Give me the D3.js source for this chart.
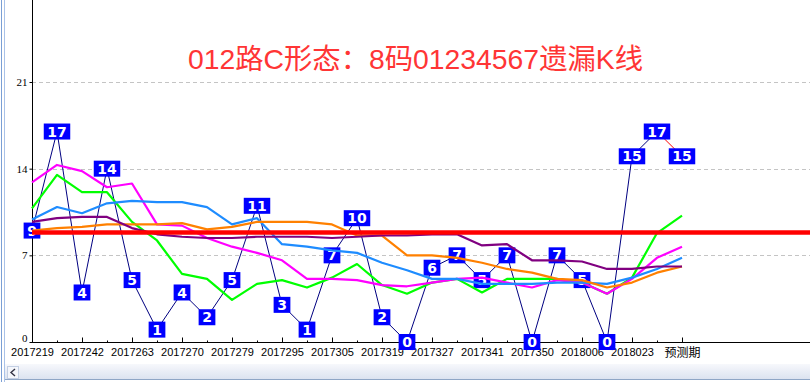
<!DOCTYPE html>
<html lang="zh">
<head>
<meta charset="UTF-8">
<title>012路C形态：8码01234567遗漏K线</title>
<style>
  html, body { margin: 0; padding: 0; background: #fff; }
  svg { display: block; }
</style>
</head>
<body>
<script src="https://d3js.org/d3.v7.min.js"></script>
<script>
// periods shown on the x axis (every second point)
const periods = ["2017219", "2017242", "2017263", "2017270", "2017279", "2017295", "2017305",
  "2017319", "2017327", "2017341", "2017350", "2018006", "2018023", "预测期"];

// omission values (blue boxes), last one is the forecast
const hits = [9, 17, 4, 14, 5, 1, 4, 2, 5, 11, 3, 1, 7, 10, 2, 0, 6, 7, 5, 7, 0, 7, 5, 0, 15, 17, 15];

// the moving lines
const greenLine = [10.8, 13.5, 12.1, 12.1, 9.7, 8.2, 5.5, 5.1, 3.4, 4.7, 5.0, 4.4, 5.2, 6.3, 4.6, 3.9, 4.8, 5.1, 4.0, 5.1, 5.1, 5.1, 4.8, 3.9, 5.2, 8.8, 10.2];
const magentaLine = [12.9, 14.3, 13.8, 12.5, 12.8, 9.5, 9.4, 8.4, 7.7, 7.2, 6.6, 5.1, 5.1, 5.0, 4.6, 4.5, 4.8, 5.1, 5.2, 4.8, 4.4, 5.0, 4.8, 3.9, 5.1, 6.8, 7.7];
const blueLine = [9.9, 10.9, 10.4, 11.2, 11.4, 11.3, 11.3, 10.9, 9.5, 10.0, 7.9, 7.7, 7.4, 7.2, 6.4, 5.8, 5.1, 5.1, 4.7, 4.7, 4.7, 4.8, 4.8, 4.7, 5.2, 5.9, 6.8];
const orangeLine = [9.0, 9.2, 9.3, 9.5, 9.5, 9.5, 9.6, 9.1, 9.3, 9.7, 9.7, 9.7, 9.5, 8.6, 8.6, 7.0, 7.0, 6.8, 6.4, 5.9, 5.6, 5.1, 5.0, 4.4, 4.8, 5.6, 6.1];
const purpleLine = [9.7, 10.0, 10.1, 10.1, 9.2, 8.7, 8.5, 8.4, 8.4, 8.5, 8.5, 8.5, 8.4, 8.5, 8.6, 8.6, 8.7, 8.7, 7.8, 7.9, 6.6, 6.6, 6.5, 5.9, 5.9, 6.1, 6.1];
const avgValue = 8.85;

const yTicks = [0, 7, 14, 21];
const title = "012路C形态：8码01234567遗漏K线";

const W = 810, H = 382;
const idx = d3.range(hits.length);

const svg = d3.select("body").append("svg")
  .attr("width", W)
  .attr("height", H);

const x = d3.scalePoint().domain(idx).range([32, 682]);
const y = d3.scaleLinear().domain([0, 21]).range([342, 82]);

// window frame bits
svg.append("rect").attr("x", 1).attr("y", 0).attr("width", 1).attr("height", H).attr("fill", "#7b9fd4");
svg.append("rect").attr("x", 4).attr("y", 0).attr("width", 1).attr("height", H).attr("fill", "#a9c2e8");

const grad = svg.append("defs").append("linearGradient")
  .attr("id", "sb").attr("x1", 0).attr("y1", 0).attr("x2", 0).attr("y2", 1);
grad.append("stop").attr("offset", "0%").attr("stop-color", "#f7f8fc");
grad.append("stop").attr("offset", "100%").attr("stop-color", "#dce3f0");
svg.append("rect").attr("x", 5).attr("y", 364).attr("width", W - 5).attr("height", 15).attr("fill", "url(#sb)");
svg.append("rect").attr("x", 5).attr("y", 379).attr("width", W - 5).attr("height", 1).attr("fill", "#8fa6c6");
svg.append("rect").attr("x", 7.5).attr("y", 366.5).attr("width", 11).attr("height", 12)
  .attr("fill", "#f4f6fb").attr("stroke", "#c3cfe3");
svg.append("path").attr("d", "M15,369 L11,372.5 L15,376")
  .attr("fill", "none").attr("stroke", "#334").attr("stroke-width", 1.4);

// gridlines
svg.append("g").selectAll("line").data(yTicks.filter(d => d > 0)).join("line")
  .attr("x1", 32).attr("x2", W)
  .attr("y1", d => Math.round(y(d)) + 0.5).attr("y2", d => Math.round(y(d)) + 0.5)
  .attr("stroke", "#c4c4c4").attr("stroke-dasharray", "4,3");

// title
svg.append("text")
  .attr("x", 188).attr("y", 69)
  .attr("textLength", 455).attr("lengthAdjust", "spacingAndGlyphs")
  .attr("fill", "#ff3535")
  .style("font-family", "'Liberation Sans', 'Noto Sans CJK SC', sans-serif")
  .style("font-size", "28px")
  .text(title);

// y axis
const yAxis = svg.append("g")
  .attr("transform", "translate(32.5,0)")
  .call(d3.axisLeft(y).tickValues(yTicks).tickSize(3).tickPadding(2));
yAxis.select(".domain").remove();
yAxis.selectAll("text")
  .style("font-family", "'Liberation Serif', serif").style("font-size", "11px").attr("fill", "#000");
// the 0 label sits a bit higher, above the period labels
yAxis.selectAll("text").filter(d => d === 0).attr("y", -4);
svg.append("line").attr("x1", 32.5).attr("x2", 32.5).attr("y1", 0).attr("y2", 342.5)
  .attr("stroke", "#000");

// x axis: labelled ticks on even points, short ones between
const xAxis = svg.append("g")
  .attr("transform", "translate(0,342.5)")
  .call(d3.axisBottom(x)
    .tickValues(idx.filter(i => i % 2 === 0))
    .tickFormat(i => periods[i / 2])
    .tickSize(-5).tickSizeOuter(0).tickPadding(6));
xAxis.select(".domain").remove();
xAxis.selectAll("text")
  .style("font-family", "'Liberation Sans', 'Noto Sans CJK SC', sans-serif").style("font-size", "11px").attr("fill", "#000");
xAxis.selectAll("text").filter(i => i === 26).style("font-size", "12px");

const minor = svg.append("g")
  .attr("transform", "translate(0,342.5)")
  .call(d3.axisBottom(x).tickValues(idx.filter(i => i % 2 === 1)).tickFormat("").tickSize(-2).tickSizeOuter(0));
minor.select(".domain").remove();

svg.append("line").attr("x1", 32).attr("x2", W).attr("y1", 342.5).attr("y2", 342.5).attr("stroke", "#000");

// connecting line of the omission values
const pts = idx.map(i => [x(i), y(hits[i])]);
const last = hits.length - 1;
svg.append("path")
  .attr("d", d3.line()(pts.slice(0, last)))
  .attr("fill", "none").attr("stroke", "#000080").attr("stroke-width", 1);
svg.append("path")
  .attr("d", d3.line()(pts.slice(last - 1)))
  .attr("fill", "none").attr("stroke", "#ff0000").attr("stroke-width", 1);

// boxes
const boxes = svg.append("g").selectAll("g").data(idx).join("g")
  .attr("transform", i => `translate(${x(i)},${y(hits[i])})`);
boxes.append("rect").attr("fill", "#0000ff");
boxes.append("text")
  .attr("text-anchor", "middle")
  .attr("dy", "0.36em")
  .attr("fill", "#fff")
  .style("font-family", "'DejaVu Sans', sans-serif")
  .style("font-weight", "bold")
  .style("font-size", "14px")
  .text(i => hits[i]);
boxes.each(function () {
  const g = d3.select(this);
  const w = g.select("text").node().getComputedTextLength() + 7;
  g.select("rect").attr("x", -w / 2).attr("y", -8).attr("width", w).attr("height", 16);
});

// moving lines
const series = [
  { v: greenLine, c: "#00ff00" },
  { v: magentaLine, c: "#ff00ff" },
  { v: blueLine, c: "#1e8cff" },
  { v: orangeLine, c: "#ff8000" },
  { v: purpleLine, c: "#800080" }
];
const line = d3.line().x((d, i) => x(i)).y(d => y(d));
svg.append("g").selectAll("path").data(series).join("path")
  .attr("d", d => line(d.v))
  .attr("fill", "none")
  .attr("stroke", d => d.c)
  .attr("stroke-width", 2.2)
  .attr("stroke-linejoin", "round");

// average line
svg.append("line")
  .attr("x1", 32).attr("x2", W)
  .attr("y1", y(avgValue)).attr("y2", y(avgValue))
  .attr("stroke", "#ff0000").attr("stroke-width", 4.5);
</script>
</body>
</html>
